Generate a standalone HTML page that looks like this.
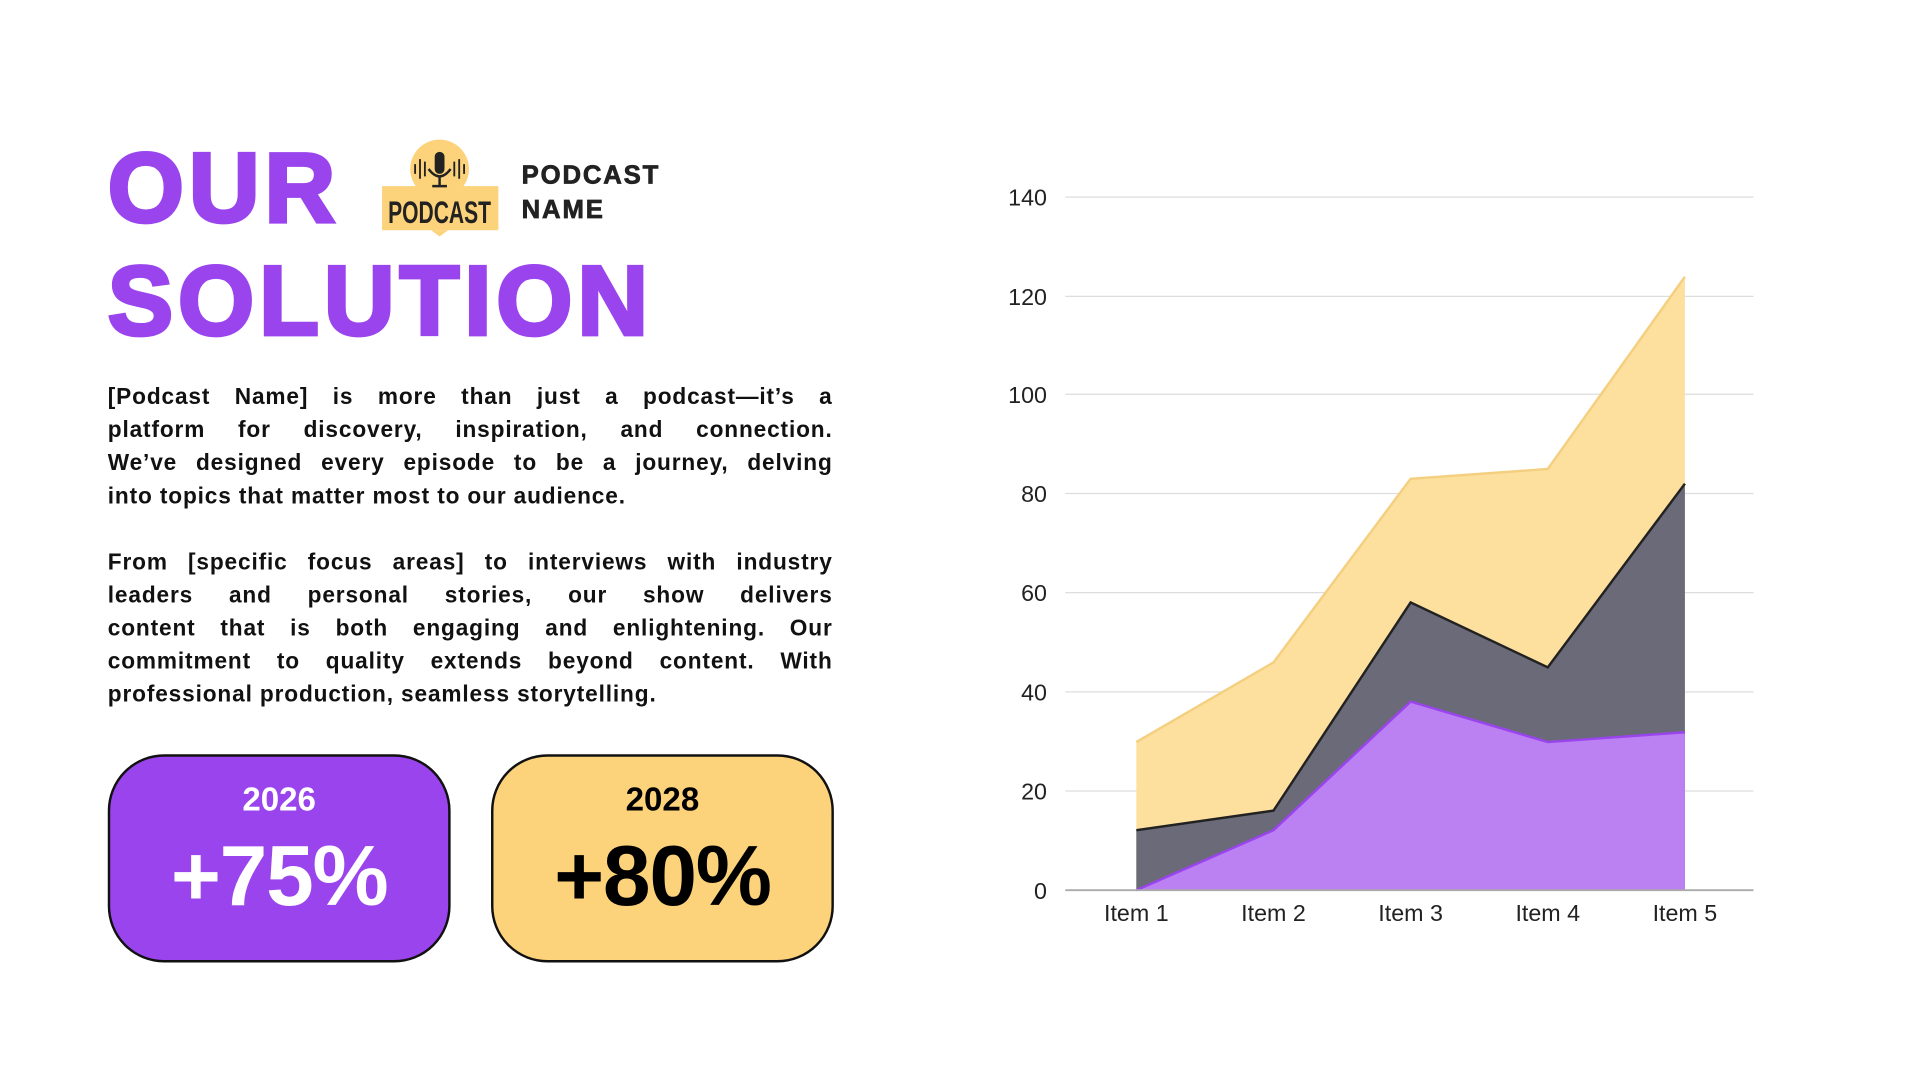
<!DOCTYPE html>
<html><head><meta charset="utf-8"><style>
html,body{margin:0;padding:0;background:#fff;overflow:hidden}
#w{width:1920px;height:1080px;position:relative}
#s{position:absolute;left:0;top:0;width:1568px;height:882px;transform:scale(1.22449);transform-origin:0 0;font-family:"Liberation Sans",sans-serif}
.h{position:absolute;color:#9a44ee;font-weight:900;font-size:80px;line-height:1;-webkit-text-stroke:3px #9a44ee;letter-spacing:4px}
.p{position:absolute;left:88px;width:592px;font-weight:bold;font-size:18.5px;line-height:27px;color:#111;letter-spacing:0.7px}
.p div{text-align:justify;text-align-last:justify;white-space:nowrap}
.p div.l{text-align-last:left}
.box{position:absolute;top:616px;width:276px;height:166px;border:2px solid #111;border-radius:46px;text-align:center}
.yr{margin-top:20px;font-size:27px;font-weight:bold;font-family:"Liberation Sans Narrow","Liberation Sans",sans-serif}
.big{font-size:70px;font-weight:bold;margin-top:6px;letter-spacing:-1px}
</style></head><body><div id="w"><div id="s">
<div class="h" style="left:88px;top:114px">OUR</div>
<div class="h" style="left:88px;top:206px">SOLUTION</div>
<svg style="position:absolute;left:312px;top:112px" width="96" height="82" viewBox="0 0 96 82">
<circle cx="47" cy="26" r="24" fill="#fcd27a"/>
<rect x="0" y="40" width="95" height="36" fill="#fcd27a"/>
<polygon points="40,76 54,76 47,81" fill="#fcd27a"/>
<rect x="43" y="12" width="8" height="18" rx="4" fill="#222"/>
<path d="M38 26 q9 12 18 0" stroke="#222" stroke-width="2" fill="none"/>
<line x1="47" y1="33" x2="47" y2="40" stroke="#222" stroke-width="2"/>
<line x1="41" y1="40" x2="53" y2="40" stroke="#222" stroke-width="2"/>
<g stroke="#222" stroke-width="1.5"><line x1="27" y1="22" x2="27" y2="30"/><line x1="31" y1="18" x2="31" y2="34"/><line x1="35" y1="20" x2="35" y2="32"/><line x1="59" y1="20" x2="59" y2="32"/><line x1="63" y1="18" x2="63" y2="34"/><line x1="67" y1="22" x2="67" y2="30"/></g>
<text x="47" y="70" text-anchor="middle" font-family="Liberation Sans Narrow,Liberation Sans,sans-serif" font-weight="bold" font-size="26" fill="#222" textLength="84" lengthAdjust="spacingAndGlyphs">PODCAST</text>
</svg>
<div style="position:absolute;left:426px;top:130px;font-weight:900;font-size:21px;line-height:28px;color:#222;letter-spacing:1.5px;-webkit-text-stroke:0.6px #222">PODCAST<br>NAME</div>
<div class="p" style="top:310px">
<div>[Podcast Name] is more than just a podcast—it’s a</div>
<div>platform for discovery, inspiration, and connection.</div>
<div>We’ve designed every episode to be a journey, delving</div>
<div class="l">into topics that matter most to our audience.</div>
</div>
<div class="p" style="top:445px">
<div>From [specific focus areas] to interviews with industry</div>
<div>leaders and personal stories, our show delivers</div>
<div>content that is both engaging and enlightening. Our</div>
<div>commitment to quality extends beyond content. With</div>
<div class="l">professional production, seamless storytelling.</div>
</div>
<div class="box" style="left:88px;background:#9a44ee;color:#fff"><div class="yr">2026</div><div class="big">+75%</div></div>
<div class="box" style="left:401px;background:#fcd27a;color:#000"><div class="yr">2028</div><div class="big">+80%</div></div>
<svg style="position:absolute;left:0;top:0" width="1568" height="882" viewBox="0 0 1568 882" font-family="Liberation Sans,sans-serif">
<g stroke="#ddd" stroke-width="1">
<line x1="870" x2="1432" y1="161" y2="161"/><line x1="870" x2="1432" y1="242" y2="242"/><line x1="870" x2="1432" y1="322" y2="322"/><line x1="870" x2="1432" y1="403" y2="403"/><line x1="870" x2="1432" y1="484" y2="484"/><line x1="870" x2="1432" y1="565" y2="565"/><line x1="870" x2="1432" y1="646" y2="646"/></g>
<g font-size="19" fill="#222" text-anchor="end">
<text x="855" y="168">140</text><text x="855" y="249">120</text><text x="855" y="329">100</text><text x="855" y="410">80</text><text x="855" y="491">60</text><text x="855" y="572">40</text><text x="855" y="653">20</text><text x="855" y="734">0</text></g>
<polygon points="928,606 1040,541 1152,391 1264,383 1376,226 1376,727 928,727" fill="#fde09e"/>
<polyline points="928,606 1040,541 1152,391 1264,383 1376,226" fill="none" stroke="#f5cf80" stroke-width="2"/>
<polygon points="928,678 1040,662 1152,492 1264,545 1376,395 1376,727 928,727" fill="#6a6a78"/>
<polyline points="928,678 1040,662 1152,492 1264,545 1376,395" fill="none" stroke="#222" stroke-width="2"/>
<polygon points="928,727 1040,678 1152,573 1264,606 1376,598 1376,727" fill="#bb80f2"/>
<polyline points="928,727 1040,678 1152,573 1264,606 1376,598" fill="none" stroke="#9a44ee" stroke-width="2"/>
<line x1="870" x2="1432" y1="727" y2="727" stroke="#aaa" stroke-width="1.5"/>
<g font-size="19" fill="#222" text-anchor="middle">
<text x="928" y="752">Item 1</text><text x="1040" y="752">Item 2</text><text x="1152" y="752">Item 3</text><text x="1264" y="752">Item 4</text><text x="1376" y="752">Item 5</text></g>
</svg>
</div></div></body></html>
